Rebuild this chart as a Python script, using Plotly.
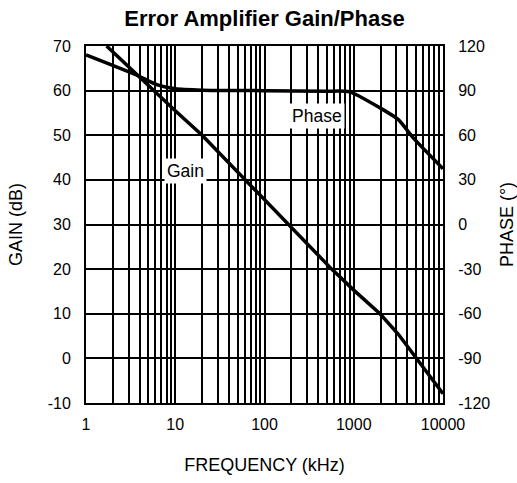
import plotly.graph_objects as go
import math

# Data
gain_freq = [1.7, 3.84, 10, 20, 60, 185, 566, 1000, 1968, 3162, 5070, 10000]
gain_db = [70, 63.3, 55.5, 50, 40.2, 30, 20, 15.3, 10, 5.4, 0, -7.9]

phase_freq = [1, 3.84, 6.2, 10, 20, 100, 500, 900, 1968, 3162, 4645, 10000]
phase_deg = [114, 100, 94, 91.2, 90.3, 90, 89.6, 89.2, 78.4, 70.5, 58.2, 37.5]

x_major = [1, 10, 100, 1000, 10000]
gain_ticks = list(range(-10, 71, 10))
phase_ticks = list(range(-120, 121, 30))

FONT = "Liberation Sans, Arial, sans-serif"

tickvals = []
ticktext = []
for p in range(4):
    for m in range(1, 10):
        v = m * 10 ** p
        tickvals.append(v)
        ticktext.append(str(v) if v in x_major else "")
tickvals.append(10000)
ticktext.append("10000")

fig = go.Figure()
fig.add_trace(go.Scatter(x=gain_freq, y=gain_db, mode="lines",
                         line=dict(color="black", width=3.5), yaxis="y"))
fig.add_trace(go.Scatter(x=phase_freq, y=phase_deg, mode="lines",
                         line=dict(color="black", width=3.5, shape="spline", smoothing=0.6),
                         yaxis="y2"))

fig.update_layout(
    width=517, height=483,
    margin=dict(l=86, r=74, t=46, b=80),
    paper_bgcolor="white", plot_bgcolor="white",
    showlegend=False,
    font=dict(family=FONT, color="black", size=16),
    title=dict(text="<b>Error Amplifier Gain/Phase</b>", x=0.5, xref="paper",
               y=0.962, yanchor="middle", font=dict(size=22, family=FONT)),
    xaxis=dict(type="log", range=[0, 4], tickvals=tickvals, ticktext=ticktext,
               showgrid=True, gridcolor="black", gridwidth=2,
               showline=True, linecolor="black", linewidth=2, mirror=True,
               ticks="", ticklabelstandoff=6, zeroline=False, automargin=False,
               tickfont=dict(size=16),
               title=dict(text="FREQUENCY (kHz)", standoff=26, font=dict(size=18))),
    yaxis=dict(range=[-10, 70], tickvals=gain_ticks,
               ticktext=[str(v) for v in gain_ticks], showgrid=True,
               gridcolor="black", gridwidth=1.5, zeroline=False,
               showline=True, linecolor="black", linewidth=2, automargin=False,
               ticks="", ticklabelstandoff=10, tickfont=dict(size=16),
               title=dict(text="GAIN (dB)", standoff=20, font=dict(size=18))),
    yaxis2=dict(range=[-120, 120], tickvals=phase_ticks,
                ticktext=[str(v) for v in phase_ticks], overlaying="y", side="right",
                showgrid=False, zeroline=False, showline=True, linecolor="black",
                linewidth=2, ticks="", ticklabelstandoff=10, automargin=False,
                tickfont=dict(size=16),
                title=dict(text="PHASE (°)", standoff=14, font=dict(size=18))),
    annotations=[
        dict(x=math.log10(13.0), y=41.9, xref="x", yref="y", text="Gain",
             showarrow=False, bgcolor="white", font=dict(size=17.5, family=FONT),
             borderpad=2),
        dict(x=math.log10(390), y=54.4, xref="x", yref="y", text="Phase",
             showarrow=False, bgcolor="white", font=dict(size=17.5, family=FONT),
             borderpad=2),
    ],
)

fig.write_html("out.html")
